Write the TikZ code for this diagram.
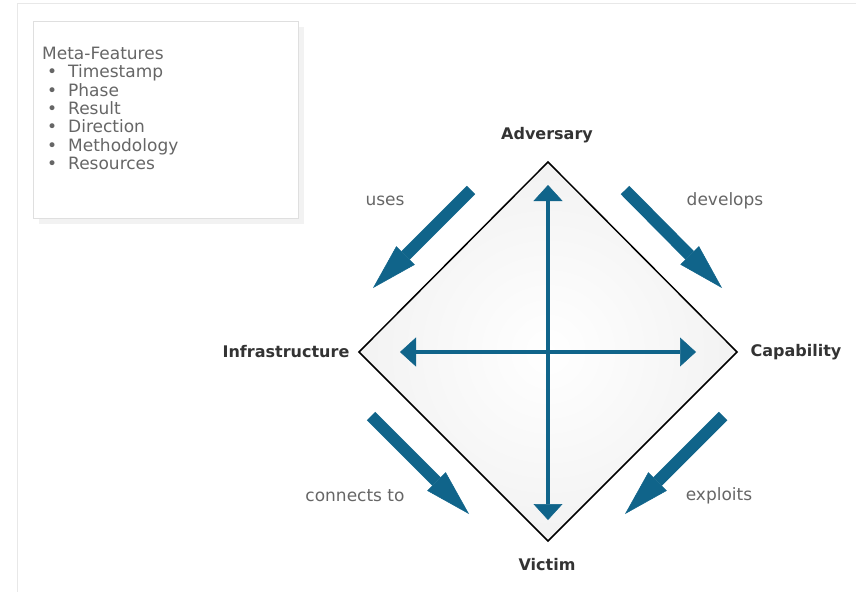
\documentclass[tikz,border=0pt]{standalone}
\usepackage{fontspec}
\setmainfont{DejaVu Sans}
\usepackage{tikz}
\usetikzlibrary{arrows.meta,shadows}
\definecolor{diamondblue}{HTML}{10648A}
\definecolor{labelgray}{HTML}{666666}
\definecolor{titlegray}{HTML}{333333}
\newcommand{\metaitem}[1]{\makebox[20pt]{\textbullet}\hspace{6pt}#1}

\begin{document}
\begin{tikzpicture}[x=1pt,y=-1pt,
                      vertex/.style={font=\fontsize{16}{18}\selectfont\bfseries,text=titlegray},
                      relation/.style={font=\fontsize{17}{20}\selectfont,text=labelgray},
                      bigarrow/.style={draw=diamondblue,line width=12pt,-{Triangle[width=26pt,length=46pt,line width=0.5pt]}},
                      axis/.style={draw=diamondblue,line width=3.5pt,{Triangle[width=29pt,length=16pt,line width=0.5pt]}-{Triangle[width=29pt,length=16pt,line width=0.5pt]}}]
                              \useasboundingbox (0,0) rectangle (856,592);
                              \draw[gray!18,line width=1pt] (17,592) -- (17,3) -- (856,3);

                              \node[draw=gray!25,fill=white,minimum width=265pt,minimum height=197pt,
                                    drop shadow={opacity=0.1,shadow xshift=6pt,shadow yshift=-6pt}] (metabox) at (165.5,119.5) {};
                              \node[anchor=north west,inner sep=0pt,align=left,text=labelgray,
                                    font=\fontsize{17}{18.3}\selectfont] (metatext) at (42,47)
                                    {Meta-Features\\\metaitem{Timestamp}\\\metaitem{Phase}\\\metaitem{Result}\\
                                     \metaitem{Direction}\\\metaitem{Methodology}\\\metaitem{Resources}};

                              \coordinate (top) at (548,162);
                              \coordinate (right) at (737,352);
                              \coordinate (bottom) at (548,541);
                              \coordinate (left) at (359,352);
                              \shadedraw[line width=1.5pt,inner color=white,outer color=gray!10]
                                    (top) -- (right) -- (bottom) -- (left) -- cycle;

                              \node[vertex] (adversary) at (547,135) {Adversary};
                              \node[vertex] (infrastructure) at (286,352) {Infrastructure};
                              \node[vertex] (capability) at (796,352) {Capability};
                              \node[vertex] (victim) at (547,565) {Victim};

                              \coordinate (axtop) at (548,185);
                              \coordinate (axbottom) at (548,520);
                              \coordinate (axleft) at (400,352);
                              \coordinate (axright) at (696,352);
                              \draw[axis] (axtop) -- (axbottom);
                              \draw[axis] (axleft) -- (axright);

                              \coordinate (usesA) at (471,190);
                              \coordinate (usesB) at (373,288);
                              \coordinate (developsA) at (625,190);
                              \coordinate (developsB) at (722,288);
                              \coordinate (connectsA) at (371,416);
                              \coordinate (connectsB) at (469,514);
                              \coordinate (exploitsA) at (723,416);
                              \coordinate (exploitsB) at (625,514);
                              \draw[bigarrow] (usesA) -- (usesB);
                              \draw[bigarrow] (developsA) -- (developsB);
                              \draw[bigarrow] (connectsA) -- (connectsB);
                              \draw[bigarrow] (exploitsA) -- (exploitsB);

                              \node[relation] (uses) at (385,201) {uses};
                              \node[relation] (develops) at (725,201) {develops};
                              \node[relation] (connects) at (355,496) {connects to};
                              \node[relation] (exploits) at (719,496) {exploits};
                      \end{tikzpicture}
\end{document}
